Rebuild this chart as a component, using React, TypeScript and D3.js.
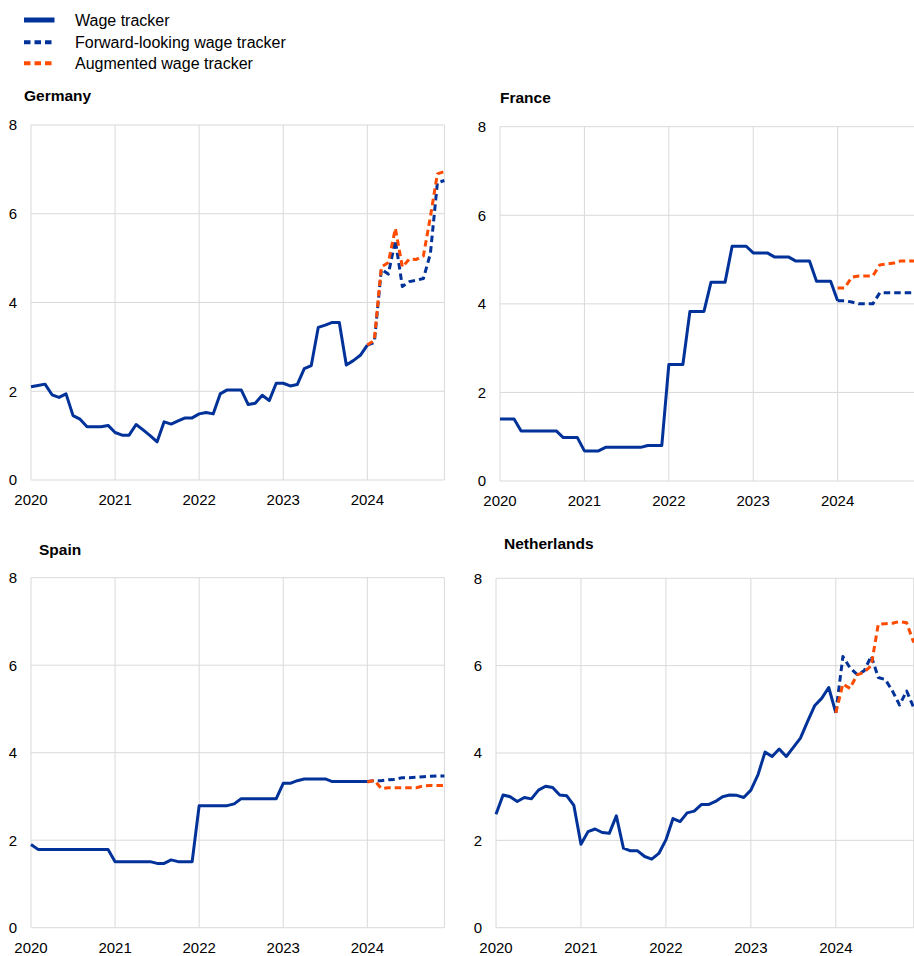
import React from "react";
import * as d3 from "d3";

// ---- Data (monthly, Jan 2020 = month 0) ----
const years = [2020, 2021, 2022, 2023, 2024];
const yTicks = [0, 2, 4, 6, 8];
const seriesNames = ["Wage tracker", "Forward-looking wage tracker", "Augmented wage tracker"];
const countries = ["Germany", "France", "Spain", "Netherlands"];

// Wage tracker: months 0..48
const germanyWage = [2.10, 2.13, 2.16, 1.92, 1.86, 1.94, 1.45, 1.37, 1.20, 1.20, 1.20, 1.23, 1.07, 1.01, 1.01, 1.25, 1.13, 1.00, 0.86, 1.31, 1.26, 1.33, 1.40, 1.40, 1.49, 1.52, 1.49, 1.94, 2.03, 2.03, 2.03, 1.70, 1.73, 1.91, 1.79, 2.18, 2.18, 2.12, 2.15, 2.51, 2.58, 3.44, 3.49, 3.55, 3.55, 2.59, 2.69, 2.81, 3.04];
const franceWage = [1.40, 1.40, 1.40, 1.13, 1.13, 1.13, 1.13, 1.13, 1.13, 0.98, 0.98, 0.98, 0.68, 0.68, 0.68, 0.76, 0.76, 0.76, 0.76, 0.76, 0.76, 0.80, 0.80, 0.80, 2.63, 2.63, 2.63, 3.83, 3.83, 3.83, 4.49, 4.49, 4.49, 5.30, 5.30, 5.30, 5.15, 5.15, 5.15, 5.06, 5.06, 5.06, 4.97, 4.97, 4.97, 4.51, 4.51, 4.51, 4.07];
const spainWage = [1.90, 1.79, 1.79, 1.79, 1.79, 1.79, 1.79, 1.79, 1.79, 1.79, 1.79, 1.79, 1.51, 1.51, 1.51, 1.51, 1.51, 1.51, 1.47, 1.47, 1.55, 1.51, 1.51, 1.51, 2.79, 2.79, 2.79, 2.79, 2.79, 2.83, 2.95, 2.95, 2.95, 2.95, 2.95, 2.95, 3.30, 3.30, 3.36, 3.40, 3.40, 3.40, 3.40, 3.34, 3.34, 3.34, 3.34, 3.34, 3.34];
const netherlandsWage = [2.60, 3.04, 3.00, 2.89, 2.98, 2.95, 3.15, 3.24, 3.21, 3.04, 3.02, 2.80, 1.91, 2.20, 2.26, 2.18, 2.16, 2.56, 1.82, 1.76, 1.76, 1.63, 1.57, 1.70, 2.01, 2.50, 2.43, 2.63, 2.67, 2.82, 2.82, 2.89, 3.00, 3.04, 3.03, 2.98, 3.15, 3.50, 4.02, 3.92, 4.09, 3.92, 4.13, 4.34, 4.72, 5.08, 5.25, 5.50, 4.92];

// Forward-looking and augmented: months 48..59
const germanyForward = [3.04, 3.10, 4.75, 4.64, 5.40, 4.36, 4.47, 4.50, 4.54, 5.10, 6.70, 6.75];
const germanyAugmented = [3.04, 3.15, 4.80, 4.90, 5.67, 4.80, 4.98, 4.97, 5.05, 5.93, 6.90, 6.95];
const franceForward = [4.07, 4.07, 4.04, 4.00, 4.00, 4.00, 4.25, 4.25, 4.25, 4.25, 4.25, 4.25];
const franceAugmented = [4.36, 4.36, 4.60, 4.63, 4.63, 4.63, 4.88, 4.90, 4.92, 4.97, 4.97, 4.97];
const spainForward = [3.34, 3.36, 3.36, 3.38, 3.39, 3.43, 3.43, 3.44, 3.45, 3.46, 3.47, 3.47];
const spainAugmented = [3.33, 3.37, 3.18, 3.20, 3.20, 3.20, 3.20, 3.20, 3.24, 3.25, 3.25, 3.25];
const netherlandsForward = [4.92, 6.21, 5.95, 5.80, 5.88, 6.22, 5.73, 5.68, 5.42, 5.10, 5.42, 5.04];
const netherlandsAugmented = [4.92, 5.58, 5.48, 5.79, 5.85, 6.00, 6.95, 6.96, 6.97, 7.01, 6.98, 6.53];

const wageData = [germanyWage, franceWage, spainWage, netherlandsWage];
const forwardData = [germanyForward, franceForward, spainForward, netherlandsForward];
const augmentedData = [germanyAugmented, franceAugmented, spainAugmented, netherlandsAugmented];

const FORECAST_START = 48;
const LAST_MONTH = 59;

// ---- Layout ----
const BLUE = "#003299";
const ORANGE = "#ff4b00";
const GRID = "#d9d9d9";
const FONT = "Arial, 'Liberation Sans', Helvetica, sans-serif";

const panels = [
  { x0: 31, x1: 444.4, y0: 125, y1: 480, tx: 24, ty: 101 },
  { x0: 500, x1: 915, y0: 126.7, y1: 481, tx: 500, ty: 103 },
  { x0: 31, x1: 444.4, y0: 577.7, y1: 927.7, tx: 39, ty: 555 },
  { x0: 496, x1: 913.7, y0: 578.3, y1: 927.7, tx: 504, ty: 549 },
];

function Panel({ idx }: { idx: number }) {
  const p = panels[idx];
  const x = d3.scaleLinear().domain([0, LAST_MONTH]).range([p.x0, p.x1]);
  const y = d3.scaleLinear().domain([0, 8]).range([p.y1, p.y0]);
  const line = d3
    .line<number>()
    .x((_, i) => x(i))
    .y((d) => y(d));
  const lineF = d3
    .line<number>()
    .x((_, i) => x(i + FORECAST_START))
    .y((d) => y(d));
  const dash = "6.5,4";
  return (
    <g>
      <text x={p.tx} y={p.ty} fontFamily={FONT} fontWeight="bold" fontSize={15.5} fill="#000">
        {countries[idx]}
      </text>
      {yTicks.map((t) => (
        <line key={"h" + t} x1={p.x0} x2={p.x1} y1={y(t)} y2={y(t)} stroke={GRID} strokeWidth={1} />
      ))}
      {years.map((yr) => {
        const xv = x((yr - 2020) * 12);
        return <line key={"v" + yr} x1={xv} x2={xv} y1={p.y0} y2={p.y1} stroke={GRID} strokeWidth={1} />;
      })}
      <line x1={p.x1} x2={p.x1} y1={p.y0} y2={p.y1} stroke={GRID} strokeWidth={1} />
      {yTicks.map((t) => (
        <text key={"yl" + t} x={p.x0 - 14} y={y(t)} dy="0.36em" textAnchor="end" fontFamily={FONT} fontSize={15} fill="#000">
          {t}
        </text>
      ))}
      {years.map((yr) => (
        <text key={"xl" + yr} x={x((yr - 2020) * 12)} y={p.y1 + 25} textAnchor="middle" fontFamily={FONT} fontSize={15} fill="#000">
          {yr}
        </text>
      ))}
      <path d={line(wageData[idx]) || ""} fill="none" stroke={BLUE} strokeWidth={3} strokeLinejoin="round" />
      <path d={lineF(forwardData[idx]) || ""} fill="none" stroke={BLUE} strokeWidth={3} strokeDasharray={dash} strokeLinejoin="round" />
      <path d={lineF(augmentedData[idx]) || ""} fill="none" stroke={ORANGE} strokeWidth={3} strokeDasharray={dash} strokeLinejoin="round" />
    </g>
  );
}

function Legend() {
  const items = [
    { name: seriesNames[0], color: BLUE, dash: undefined as string | undefined, y: 20 },
    { name: seriesNames[1], color: BLUE, dash: "6.5,4", y: 42.3 },
    { name: seriesNames[2], color: ORANGE, dash: "6.5,4", y: 63.3 },
  ];
  return (
    <g>
      {items.map((it) => (
        <g key={it.name}>
          <line x1={24} x2={54.5} y1={it.y} y2={it.y} stroke={it.color} strokeWidth={it.dash ? 4 : 5} strokeDasharray={it.dash} />
          <text x={75} y={it.y} dy="0.36em" fontFamily={FONT} fontSize={16} fill="#000">
            {it.name}
          </text>
        </g>
      ))}
    </g>
  );
}

export default function App() {
  return (
    <svg
      width={914}
      height={956}
      viewBox="0 0 914 956"
      style={{ position: "absolute", left: 0, top: 0, background: "#fff" }}
    >
      <rect x={0} y={0} width={914} height={956} fill="#fff" />
      <Legend />
      {countries.map((_, i) => (
        <Panel key={i} idx={i} />
      ))}
    </svg>
  );
}
